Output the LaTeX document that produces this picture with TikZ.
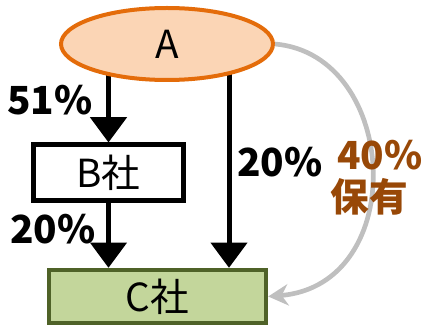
\documentclass[tikz,border=0pt]{standalone}
\usepackage{fontspec}
\setmainfont{Noto Sans CJK JP}
\usetikzlibrary{arrows.meta,shapes.geometric,backgrounds}

\definecolor{aorange}{HTML}{E46C0A}
\definecolor{afill}{HTML}{FBD5B5}
\definecolor{cgreen}{HTML}{4F6228}
\definecolor{cfill}{HTML}{C3D69B}
\definecolor{brownlbl}{HTML}{984807}
\definecolor{arcgray}{HTML}{BFBFBF}

\begin{document}
\begin{tikzpicture}[x=0.75pt, y=-0.75pt,
    every node/.style={font=\fontsize{29}{32}\selectfont},
    pct/.style={font=\fontsize{29}{31}\selectfont\bfseries},
    own/.style={-{Triangle[width=27pt,length=19pt]}, line width=3.75pt}]
    \useasboundingbox (0,0) rectangle (427,327);

    % Companies
    \node[ellipse, draw=aorange, fill=afill, line width=3pt,
          minimum width=159pt, minimum height=54pt, inner sep=0pt] (A) at (167,44) {A};
    \node[draw, fill=white, line width=3.75pt,
          minimum width=112pt, minimum height=42pt, inner sep=0pt] (B) at (108.5,173) {B社};
    \node[draw=cgreen, fill=cfill, line width=3pt,
          minimum width=163pt, minimum height=40pt, inner sep=0pt] (C) at (157.5,296.5) {C社};
    \coordinate (ac) at (229,44);

    % Shareholdings
    \begin{scope}[on background layer]
        \draw[own] (A.center -| B.north) -- (B.north);
        \draw[own] (ac) -- (ac |- C.north);
    \end{scope}
    \draw[own] (B.south) -- (B.south |- C.north);

    % Direct holding, shown as an arc
    \draw[arcgray, line width=3.5pt, -{Stealth[length=15pt,width=16pt]}]
        (A.east) .. controls (400,55) and (410,285) .. (C.east);

    % Labels
    \node[pct] (l51) at (50,100) {51\%};
    \node[pct] (l20a) at (280,162) {20\%};
    \node[pct] (l20b) at (53,229) {20\%};
    \node[pct, text=brownlbl] (l40) at (380,155) {40\%};
    \node[pct, text=brownlbl] (lhold) at (369,197) {保有};
\end{tikzpicture}
\end{document}
